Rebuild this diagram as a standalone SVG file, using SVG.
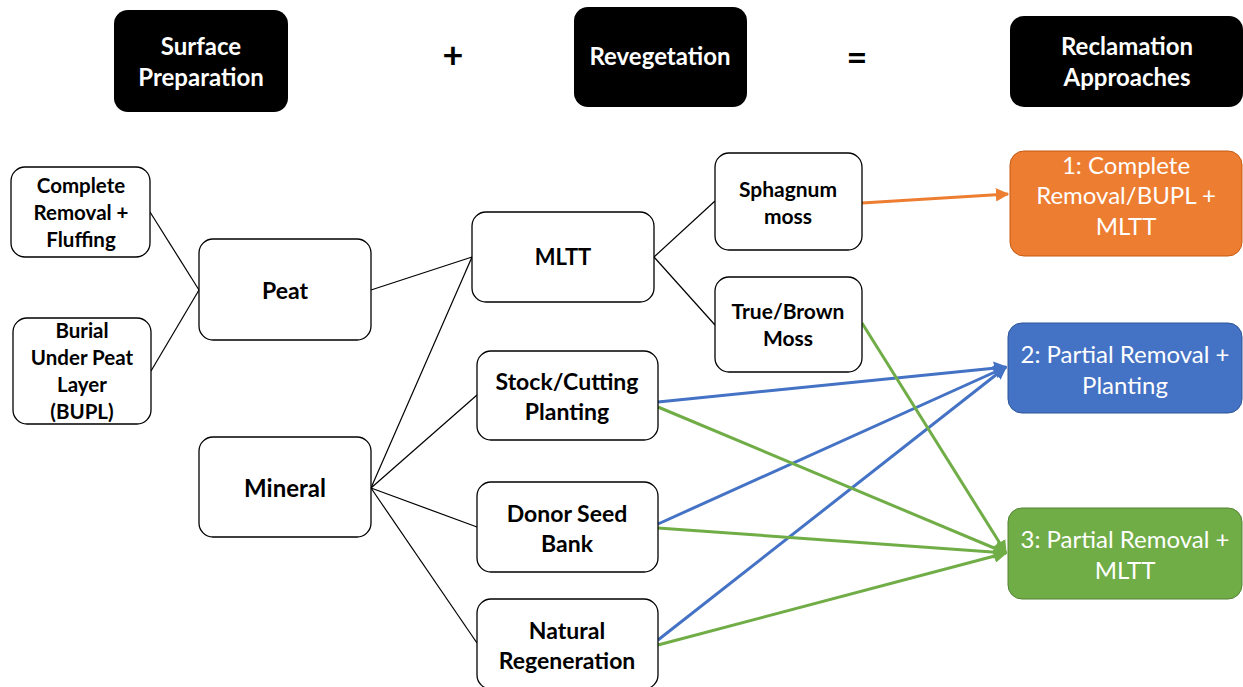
<svg xmlns="http://www.w3.org/2000/svg" width="1243" height="687" viewBox="0 0 1243 687">
<defs>
<style>
.hdr{fill:#000;stroke:none}
.hdrt{fill:#fff;font-family:Lato,"Open Sans",sans-serif;font-weight:bold;font-size:24px;text-anchor:middle}
.n{fill:#fff;stroke:#000;stroke-width:1.3}
.nt{fill:#000;font-family:Lato,"Open Sans",sans-serif;font-weight:bold;text-anchor:middle}
.ct{fill:#fff;font-family:Lato,"Open Sans",sans-serif;font-size:24px;text-anchor:middle}
.op{fill:#000;font-family:Lato,"Open Sans",sans-serif;font-weight:bold;font-size:36px;text-anchor:middle}
.bl{stroke:#000;stroke-width:1.2;fill:none}
.or{stroke:#ED7D31;stroke-width:3;fill:none}
.bu{stroke:#4472C4;stroke-width:3;fill:none}
.gr{stroke:#70AD47;stroke-width:3;fill:none}
</style>
<marker id="ao" viewBox="0 0 10 10" refX="9" refY="5" markerWidth="4.5" markerHeight="4.5" orient="auto" markerUnits="strokeWidth"><path d="M0,0 L10,5 L0,10 z" fill="#ED7D31"/></marker>
<marker id="ab" viewBox="0 0 10 10" refX="9" refY="5" markerWidth="4.5" markerHeight="4.5" orient="auto" markerUnits="strokeWidth"><path d="M0,0 L10,5 L0,10 z" fill="#4472C4"/></marker>
<marker id="ag" viewBox="0 0 10 10" refX="9" refY="5" markerWidth="4.5" markerHeight="4.5" orient="auto" markerUnits="strokeWidth"><path d="M0,0 L10,5 L0,10 z" fill="#70AD47"/></marker>
</defs>
<rect width="1243" height="687" fill="#fff"/>

<g id="header-surface"><rect class="hdr" x="114" y="10" width="174" height="102" rx="14"/><text class="hdrt" x="201" y="55">Surface</text><text class="hdrt" x="201" y="86">Preparation</text></g>
<g id="plus"><text class="op" x="453" y="68">+</text></g>
<g id="header-reveg"><rect class="hdr" x="574" y="7" width="173" height="100" rx="14"/><text class="hdrt" x="660" y="65">Revegetation</text></g>
<g id="equals"><text class="op" x="857" y="70">=</text></g>
<g id="header-recl"><rect class="hdr" x="1010" y="16" width="233" height="91" rx="14"/><text class="hdrt" x="1127" y="55">Reclamation</text><text class="hdrt" x="1127" y="86">Approaches</text></g>

<g id="connectors">
<line class="bl" x1="150" y1="212" x2="199" y2="290"/>
<line class="bl" x1="151" y1="371" x2="199" y2="290"/>
<line class="bl" x1="371" y1="290" x2="472" y2="257"/>
<line class="bl" x1="371" y1="488" x2="472" y2="257"/>
<line class="bl" x1="371" y1="488" x2="477" y2="395"/>
<line class="bl" x1="371" y1="488" x2="477" y2="527"/>
<line class="bl" x1="371" y1="488" x2="477" y2="643"/>
<line class="bl" x1="654" y1="257" x2="715" y2="201"/>
<line class="bl" x1="654" y1="257" x2="715" y2="325"/>
<line class="or" x1="862" y1="203" x2="1008" y2="194" marker-end="url(#ao)"/>
<line class="bu" x1="658" y1="402" x2="1006" y2="367" marker-end="url(#ab)"/>
<line class="bu" x1="658" y1="524" x2="1006" y2="367" marker-end="url(#ab)"/>
<line class="bu" x1="658" y1="640" x2="1006" y2="367" marker-end="url(#ab)"/>
<line class="gr" x1="862" y1="323" x2="1006" y2="553" marker-end="url(#ag)"/>
<line class="gr" x1="658" y1="407" x2="1006" y2="553" marker-end="url(#ag)"/>
<line class="gr" x1="658" y1="528" x2="1006" y2="553" marker-end="url(#ag)"/>
<line class="gr" x1="658" y1="645" x2="1006" y2="553" marker-end="url(#ag)"/>
</g>

<g id="complete-removal"><rect class="n" x="11" y="167" width="139" height="90" rx="14"/><text class="nt" font-size="20.5" x="81" y="193">Complete</text><text class="nt" font-size="20.5" x="81" y="220">Removal +</text><text class="nt" font-size="20.5" x="81" y="247">Fluffing</text></g>
<g id="bupl"><rect class="n" x="13" y="318" width="138" height="106" rx="14"/><text class="nt" font-size="20.5" x="82" y="338">Burial</text><text class="nt" font-size="20.5" x="82" y="365">Under Peat</text><text class="nt" font-size="20.5" x="82" y="392">Layer</text><text class="nt" font-size="20.5" x="82" y="419">(BUPL)</text></g>
<g id="peat"><rect class="n" x="199" y="239" width="172" height="101" rx="14"/><text class="nt" font-size="23" x="285" y="299">Peat</text></g>
<g id="mineral"><rect class="n" x="199" y="437" width="172" height="100" rx="14"/><text class="nt" font-size="24" x="285" y="497">Mineral</text></g>
<g id="mltt"><rect class="n" x="472" y="212" width="182" height="90" rx="14"/><text class="nt" font-size="22" x="563" y="265">MLTT</text></g>
<g id="sphagnum"><rect class="n" x="715" y="153" width="147" height="97" rx="14"/><text class="nt" font-size="21" x="788" y="197">Sphagnum</text><text class="nt" font-size="21" x="788" y="224">moss</text></g>
<g id="truebrown"><rect class="n" x="715" y="277" width="147" height="95" rx="14"/><text class="nt" font-size="21" x="788" y="319">True/Brown</text><text class="nt" font-size="21" x="788" y="346">Moss</text></g>
<g id="stock"><rect class="n" x="477" y="351" width="181" height="89" rx="14"/><text class="nt" font-size="23" x="567" y="390">Stock/Cutting</text><text class="nt" font-size="23" x="567" y="420">Planting</text></g>
<g id="donor"><rect class="n" x="477" y="482" width="181" height="90" rx="14"/><text class="nt" font-size="23" x="567" y="522">Donor Seed</text><text class="nt" font-size="23" x="567" y="552">Bank</text></g>
<g id="natural"><rect class="n" x="477" y="599" width="181" height="90" rx="14"/><text class="nt" font-size="23" x="567" y="639">Natural</text><text class="nt" font-size="23" x="567" y="669">Regeneration</text></g>

<g id="approach1"><rect x="1010" y="151" width="232" height="105" rx="14" fill="#ED7D31" stroke="#C55A11" stroke-width="1"/><text class="ct" x="1126" y="174">1: Complete</text><text class="ct" x="1126" y="204">Removal/BUPL +</text><text class="ct" x="1126" y="235">MLTT</text></g>
<g id="approach2"><rect x="1008" y="323" width="234" height="90" rx="14" fill="#4472C4" stroke="#2F5597" stroke-width="1"/><text class="ct" x="1125" y="363">2: Partial Removal +</text><text class="ct" x="1125" y="394">Planting</text></g>
<g id="approach3"><rect x="1008" y="508" width="234" height="91" rx="14" fill="#70AD47" stroke="#548235" stroke-width="1"/><text class="ct" x="1125" y="548">3: Partial Removal +</text><text class="ct" x="1125" y="579">MLTT</text></g>
</svg>
